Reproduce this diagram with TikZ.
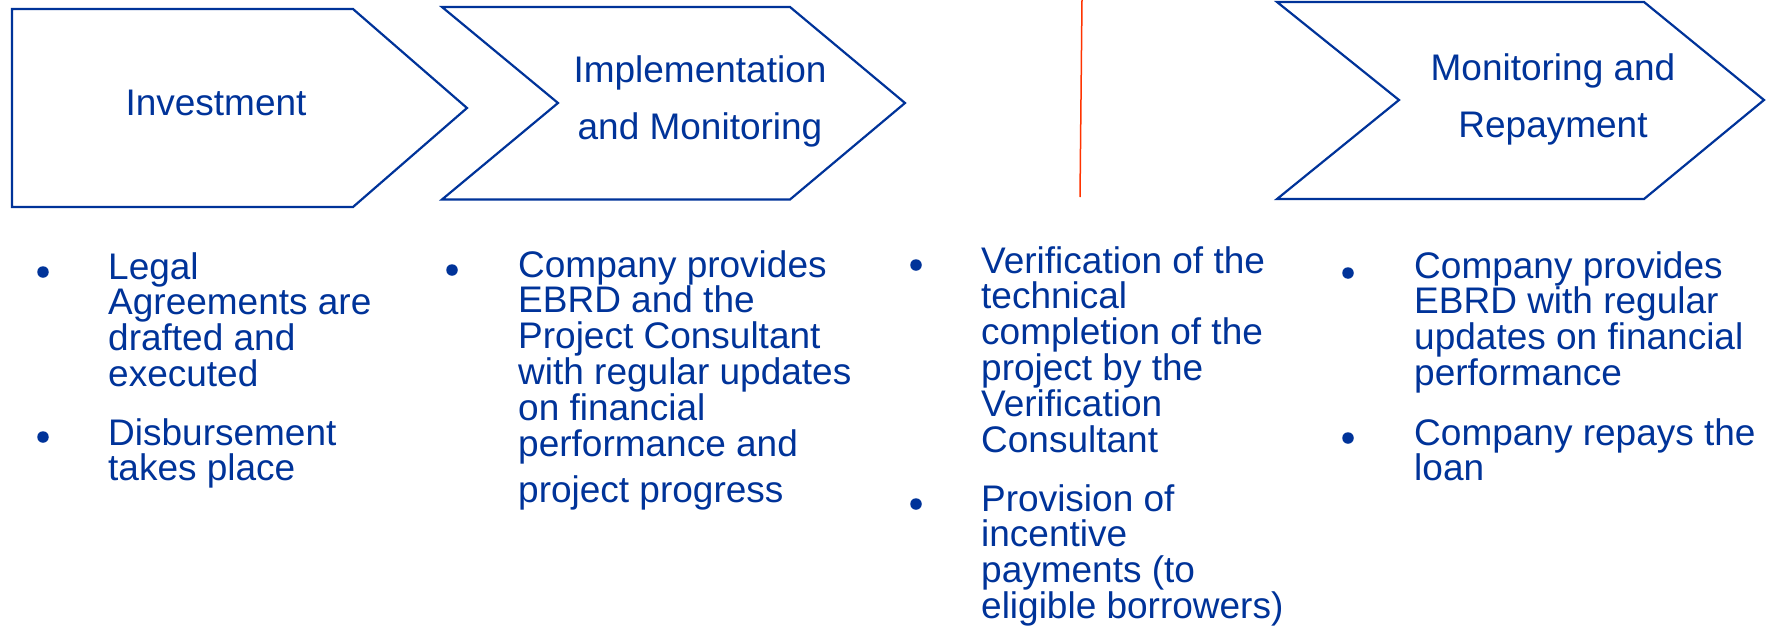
\documentclass[tikz,border=0pt]{standalone}
\usepackage{fontspec}
\setmainfont{Liberation Sans}
\definecolor{ebrd}{RGB}{0,51,153}
\definecolor{redline}{RGB}{255,51,0}
\newcommand{\stk}[1]{\vtop{\lineskiplimit=-100pt #1}}
\newcommand{\ctr}[1]{\vtop{\lineskiplimit=-100pt\halign{\hfil##\hfil\cr #1\cr}}}
\begin{document}
\begin{tikzpicture}[x=1pt,y=-1pt,
  phase/.style={draw=ebrd, line width=2.2pt, line join=miter},
  title/.style={text=ebrd, font=\fontsize{37}{57.5}\selectfont, inner sep=0pt, anchor=base},
  item/.style={text=ebrd, font=\fontsize{37}{35.8}\selectfont, inner sep=0pt, anchor=base west},
  dot/.style={circle, fill=ebrd, inner sep=0pt, minimum size=11.5pt}]
\useasboundingbox (0,0) rectangle (1770,627);

% phase shapes
\draw[phase] (12,9) -- (353,9) -- (467,108) -- (353,207) -- (12,207) -- cycle;
\draw[phase] (442,7) -- (790,7) -- (905,103) -- (790,199.5) -- (442,199.5) -- (558,103) -- cycle;
\draw[phase] (1277,2) -- (1644,2) -- (1764,100) -- (1644,199) -- (1277,199) -- (1399,100) -- cycle;

% red marker line
\coordinate (rt) at (1082,0);
\coordinate (rb) at (1080,197);
\draw[redline, line width=1.5pt] (rt) -- (rb);

% titles
\node[title] (t1) at (216,115) {Investment};
\node[title] (t2) at (700,82) {\ctr{Implementation\cr and Monitoring}};
\node[title] (t4) at (1553,80) {\ctr{Monitoring and\cr Repayment}};

% column 1
\node[dot] (d1a) at (43,272) {};
\node[item] (i1a) at (108,279) {\stk{\hbox{Legal}\hbox{Agreements are}\hbox{drafted and}\hbox{executed}}};
\node[dot] (d1b) at (43,437) {};
\node[item] (i1b) at (108,445) {\stk{\hbox{Disbursement}\hbox{takes place}}};

% column 2
\node[dot] (d2a) at (452,270) {};
\node[item] (i2a) at (518,277) {\stk{\hbox{Company provides}\hbox{EBRD and the}\hbox{Project Consultant}\hbox{with regular updates}\hbox{on financial}\hbox{performance and}\vskip11pt\hbox{project progress}}};

% column 3
\node[dot] (d3a) at (916,265) {};
\node[item] (i3a) at (981,273) {\stk{\hbox{Verification of the}\hbox{technical}\hbox{completion of the}\hbox{project by the}\hbox{Verification}\hbox{Consultant}}};
\node[dot] (d3b) at (916,504) {};
\node[item] (i3b) at (981,511) {\stk{\hbox{Provision of}\hbox{incentive}\hbox{payments (to}\hbox{eligible borrowers)}}};

% column 4
\node[dot] (d4a) at (1348,273) {};
\node[item] (i4a) at (1414,278) {\stk{\hbox{Company provides}\hbox{EBRD with regular}\hbox{updates on financial}\hbox{performance}}};
\node[dot] (d4b) at (1348,438) {};
\node[item] (i4b) at (1414,445) {\stk{\hbox{Company repays the}\hbox{loan}}};
\end{tikzpicture}
\end{document}
